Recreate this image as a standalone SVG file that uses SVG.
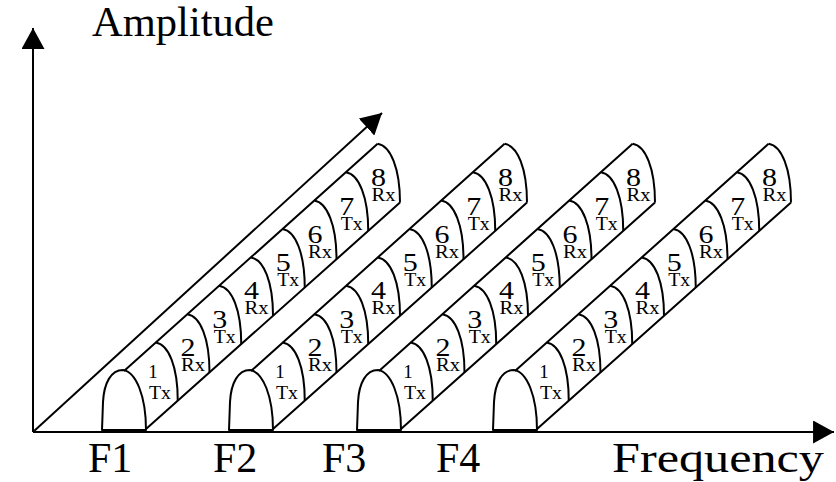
<svg xmlns="http://www.w3.org/2000/svg" width="836" height="482" viewBox="0 0 836 482">
<style>
  .ln { fill: none; stroke: #000; stroke-width: 2; stroke-linejoin: round; }
  .dome { fill: #fff; stroke: #000; stroke-width: 2; stroke-linejoin: round; }
  text { font-family: "Liberation Serif", "Times New Roman", serif; fill: #000; }
  .big { font-size: 42px; }
  .num { font-size: 25px; text-anchor: middle; }
  .num1 { font-size: 19px; text-anchor: middle; }
  .sub { font-size: 18px; text-anchor: middle; }
</style>
<defs>
  <marker id="arrow" viewBox="0 0 20 22" refX="20" refY="11" markerWidth="21" markerHeight="23" markerUnits="userSpaceOnUse" orient="auto">
    <path d="M0,0 L20,11 L0,22 z" fill="#000"/>
  </marker>
</defs>
<rect width="836" height="482" fill="#fff"/>

<g id="connectors">
  <path class="ln" d="M33,432 L33,28" marker-end="url(#arrow)"/>
  <path class="ln" d="M33,432 L834,432" marker-end="url(#arrow)"/>
  <path class="ln" d="M33,432 L382,113" marker-end="url(#arrow)"/>
</g>

<g id="labels">
  <text class="big" x="92" y="36" textLength="182" lengthAdjust="spacingAndGlyphs">Amplitude</text>
  <text class="big" x="612" y="472" textLength="212" lengthAdjust="spacingAndGlyphs">Frequency</text>
</g>

<g id="channel-F1">
  <path class="dome" d="M102,430 L103,402 C104,383 111,370 123,370 C136,372 146,396 146,430 Z"/>
  <path class="ln" d="M124,371 L377.6,143.8 M146,429 L400,202.6"/>
  <path class="ln" d="M155.7,342.6 C168.7,344.6 177.75,366.7 177.75,400.7 M187.4,314.2 C200.4,316.2 209.5,338.4 209.5,372.4 M219.1,285.8 C232.1,287.8 241.25,310.1 241.25,344.1 M250.8,257.4 C263.8,259.4 273,281.8 273,315.8 M282.5,229 C295.5,231 304.75,253.5 304.75,287.5 M314.2,200.6 C327.2,202.6 336.5,225.2 336.5,259.2 M345.9,172.2 C358.9,174.2 368.25,196.9 368.25,230.9 M377.6,143.8 C390.6,145.8 400,168.6 400,202.6"/>
  <text class="num1" x="153" y="378">1</text><text class="sub" x="160" y="399" textLength="22" lengthAdjust="spacingAndGlyphs">Tx</text>
  <text class="num" x="188" y="356" textLength="15" lengthAdjust="spacingAndGlyphs">2</text><text class="sub" x="193" y="371" textLength="24" lengthAdjust="spacingAndGlyphs">Rx</text>
  <text class="num" x="219.75" y="327.7" textLength="15" lengthAdjust="spacingAndGlyphs">3</text><text class="sub" x="224.75" y="342.7" textLength="22" lengthAdjust="spacingAndGlyphs">Tx</text>
  <text class="num" x="251.5" y="299.4" textLength="15" lengthAdjust="spacingAndGlyphs">4</text><text class="sub" x="256.5" y="314.4" textLength="24" lengthAdjust="spacingAndGlyphs">Rx</text>
  <text class="num" x="283.25" y="271.1" textLength="15" lengthAdjust="spacingAndGlyphs">5</text><text class="sub" x="288.25" y="286.1" textLength="22" lengthAdjust="spacingAndGlyphs">Tx</text>
  <text class="num" x="315" y="242.8" textLength="15" lengthAdjust="spacingAndGlyphs">6</text><text class="sub" x="320" y="257.8" textLength="24" lengthAdjust="spacingAndGlyphs">Rx</text>
  <text class="num" x="346.75" y="214.5" textLength="15" lengthAdjust="spacingAndGlyphs">7</text><text class="sub" x="351.75" y="229.5" textLength="22" lengthAdjust="spacingAndGlyphs">Tx</text>
  <text class="num" x="378.5" y="186.2" textLength="15" lengthAdjust="spacingAndGlyphs">8</text><text class="sub" x="383.5" y="201.2" textLength="24" lengthAdjust="spacingAndGlyphs">Rx</text>
  <text class="big" x="88" y="472">F1</text>
</g>

<g id="channel-F2" transform="translate(127,0)">
  <path class="dome" d="M102,430 L103,402 C104,383 111,370 123,370 C136,372 146,396 146,430 Z"/>
  <path class="ln" d="M124,371 L377.6,143.8 M146,429 L400,202.6"/>
  <path class="ln" d="M155.7,342.6 C168.7,344.6 177.75,366.7 177.75,400.7 M187.4,314.2 C200.4,316.2 209.5,338.4 209.5,372.4 M219.1,285.8 C232.1,287.8 241.25,310.1 241.25,344.1 M250.8,257.4 C263.8,259.4 273,281.8 273,315.8 M282.5,229 C295.5,231 304.75,253.5 304.75,287.5 M314.2,200.6 C327.2,202.6 336.5,225.2 336.5,259.2 M345.9,172.2 C358.9,174.2 368.25,196.9 368.25,230.9 M377.6,143.8 C390.6,145.8 400,168.6 400,202.6"/>
  <text class="num1" x="153" y="378">1</text><text class="sub" x="160" y="399" textLength="22" lengthAdjust="spacingAndGlyphs">Tx</text>
  <text class="num" x="188" y="356" textLength="15" lengthAdjust="spacingAndGlyphs">2</text><text class="sub" x="193" y="371" textLength="24" lengthAdjust="spacingAndGlyphs">Rx</text>
  <text class="num" x="219.75" y="327.7" textLength="15" lengthAdjust="spacingAndGlyphs">3</text><text class="sub" x="224.75" y="342.7" textLength="22" lengthAdjust="spacingAndGlyphs">Tx</text>
  <text class="num" x="251.5" y="299.4" textLength="15" lengthAdjust="spacingAndGlyphs">4</text><text class="sub" x="256.5" y="314.4" textLength="24" lengthAdjust="spacingAndGlyphs">Rx</text>
  <text class="num" x="283.25" y="271.1" textLength="15" lengthAdjust="spacingAndGlyphs">5</text><text class="sub" x="288.25" y="286.1" textLength="22" lengthAdjust="spacingAndGlyphs">Tx</text>
  <text class="num" x="315" y="242.8" textLength="15" lengthAdjust="spacingAndGlyphs">6</text><text class="sub" x="320" y="257.8" textLength="24" lengthAdjust="spacingAndGlyphs">Rx</text>
  <text class="num" x="346.75" y="214.5" textLength="15" lengthAdjust="spacingAndGlyphs">7</text><text class="sub" x="351.75" y="229.5" textLength="22" lengthAdjust="spacingAndGlyphs">Tx</text>
  <text class="num" x="378.5" y="186.2" textLength="15" lengthAdjust="spacingAndGlyphs">8</text><text class="sub" x="383.5" y="201.2" textLength="24" lengthAdjust="spacingAndGlyphs">Rx</text>
  <text class="big" x="86" y="472">F2</text>
</g>

<g id="channel-F3" transform="translate(255,0)">
  <path class="dome" d="M102,430 L103,402 C104,383 111,370 123,370 C136,372 146,396 146,430 Z"/>
  <path class="ln" d="M124,371 L377.6,143.8 M146,429 L400,202.6"/>
  <path class="ln" d="M155.7,342.6 C168.7,344.6 177.75,366.7 177.75,400.7 M187.4,314.2 C200.4,316.2 209.5,338.4 209.5,372.4 M219.1,285.8 C232.1,287.8 241.25,310.1 241.25,344.1 M250.8,257.4 C263.8,259.4 273,281.8 273,315.8 M282.5,229 C295.5,231 304.75,253.5 304.75,287.5 M314.2,200.6 C327.2,202.6 336.5,225.2 336.5,259.2 M345.9,172.2 C358.9,174.2 368.25,196.9 368.25,230.9 M377.6,143.8 C390.6,145.8 400,168.6 400,202.6"/>
  <text class="num1" x="153" y="378">1</text><text class="sub" x="160" y="399" textLength="22" lengthAdjust="spacingAndGlyphs">Tx</text>
  <text class="num" x="188" y="356" textLength="15" lengthAdjust="spacingAndGlyphs">2</text><text class="sub" x="193" y="371" textLength="24" lengthAdjust="spacingAndGlyphs">Rx</text>
  <text class="num" x="219.75" y="327.7" textLength="15" lengthAdjust="spacingAndGlyphs">3</text><text class="sub" x="224.75" y="342.7" textLength="22" lengthAdjust="spacingAndGlyphs">Tx</text>
  <text class="num" x="251.5" y="299.4" textLength="15" lengthAdjust="spacingAndGlyphs">4</text><text class="sub" x="256.5" y="314.4" textLength="24" lengthAdjust="spacingAndGlyphs">Rx</text>
  <text class="num" x="283.25" y="271.1" textLength="15" lengthAdjust="spacingAndGlyphs">5</text><text class="sub" x="288.25" y="286.1" textLength="22" lengthAdjust="spacingAndGlyphs">Tx</text>
  <text class="num" x="315" y="242.8" textLength="15" lengthAdjust="spacingAndGlyphs">6</text><text class="sub" x="320" y="257.8" textLength="24" lengthAdjust="spacingAndGlyphs">Rx</text>
  <text class="num" x="346.75" y="214.5" textLength="15" lengthAdjust="spacingAndGlyphs">7</text><text class="sub" x="351.75" y="229.5" textLength="22" lengthAdjust="spacingAndGlyphs">Tx</text>
  <text class="num" x="378.5" y="186.2" textLength="15" lengthAdjust="spacingAndGlyphs">8</text><text class="sub" x="383.5" y="201.2" textLength="24" lengthAdjust="spacingAndGlyphs">Rx</text>
  <text class="big" x="67" y="472">F3</text>
</g>

<g id="channel-F4" transform="translate(391,0)">
  <path class="dome" d="M102,430 L103,402 C104,383 111,370 123,370 C136,372 146,396 146,430 Z"/>
  <path class="ln" d="M124,371 L377.6,143.8 M146,429 L400,202.6"/>
  <path class="ln" d="M155.7,342.6 C168.7,344.6 177.75,366.7 177.75,400.7 M187.4,314.2 C200.4,316.2 209.5,338.4 209.5,372.4 M219.1,285.8 C232.1,287.8 241.25,310.1 241.25,344.1 M250.8,257.4 C263.8,259.4 273,281.8 273,315.8 M282.5,229 C295.5,231 304.75,253.5 304.75,287.5 M314.2,200.6 C327.2,202.6 336.5,225.2 336.5,259.2 M345.9,172.2 C358.9,174.2 368.25,196.9 368.25,230.9 M377.6,143.8 C390.6,145.8 400,168.6 400,202.6"/>
  <text class="num1" x="153" y="378">1</text><text class="sub" x="160" y="399" textLength="22" lengthAdjust="spacingAndGlyphs">Tx</text>
  <text class="num" x="188" y="356" textLength="15" lengthAdjust="spacingAndGlyphs">2</text><text class="sub" x="193" y="371" textLength="24" lengthAdjust="spacingAndGlyphs">Rx</text>
  <text class="num" x="219.75" y="327.7" textLength="15" lengthAdjust="spacingAndGlyphs">3</text><text class="sub" x="224.75" y="342.7" textLength="22" lengthAdjust="spacingAndGlyphs">Tx</text>
  <text class="num" x="251.5" y="299.4" textLength="15" lengthAdjust="spacingAndGlyphs">4</text><text class="sub" x="256.5" y="314.4" textLength="24" lengthAdjust="spacingAndGlyphs">Rx</text>
  <text class="num" x="283.25" y="271.1" textLength="15" lengthAdjust="spacingAndGlyphs">5</text><text class="sub" x="288.25" y="286.1" textLength="22" lengthAdjust="spacingAndGlyphs">Tx</text>
  <text class="num" x="315" y="242.8" textLength="15" lengthAdjust="spacingAndGlyphs">6</text><text class="sub" x="320" y="257.8" textLength="24" lengthAdjust="spacingAndGlyphs">Rx</text>
  <text class="num" x="346.75" y="214.5" textLength="15" lengthAdjust="spacingAndGlyphs">7</text><text class="sub" x="351.75" y="229.5" textLength="22" lengthAdjust="spacingAndGlyphs">Tx</text>
  <text class="num" x="378.5" y="186.2" textLength="15" lengthAdjust="spacingAndGlyphs">8</text><text class="sub" x="383.5" y="201.2" textLength="24" lengthAdjust="spacingAndGlyphs">Rx</text>
  <text class="big" x="45" y="472">F4</text>
</g>
</svg>
